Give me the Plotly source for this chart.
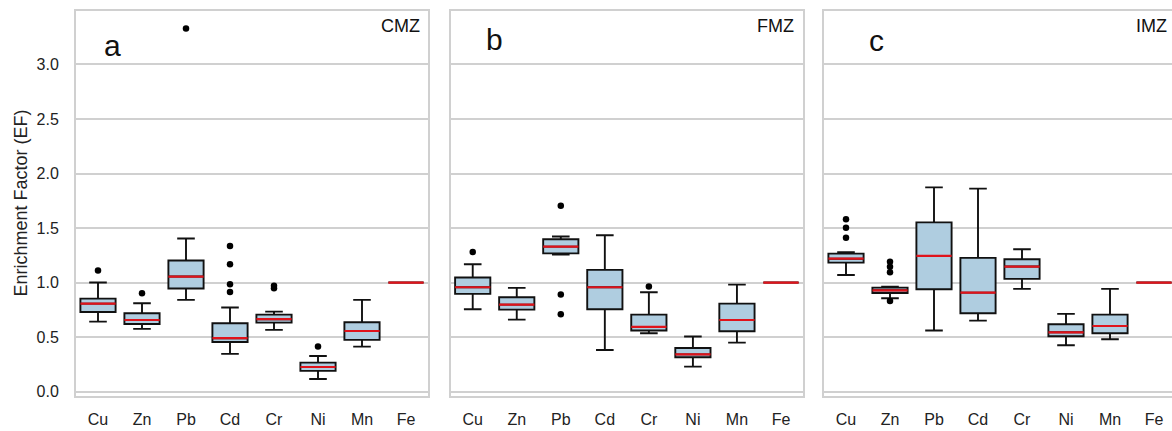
import plotly.graph_objects as go

categories = ["Cu", "Zn", "Pb", "Cd", "Cr", "Ni", "Mn", "Fe"]

# Panel a (CMZ)
a_lo = [0.642, 0.575, 0.841, 0.346, 0.566, 0.116, 0.413, 1.0]
a_q1 = [0.730, 0.620, 0.945, 0.455, 0.633, 0.190, 0.475, 1.0]
a_med = [0.807, 0.657, 1.055, 0.490, 0.664, 0.226, 0.556, 1.0]
a_q3 = [0.853, 0.719, 1.202, 0.627, 0.706, 0.266, 0.636, 1.0]
a_hi = [1.000, 0.810, 1.404, 0.771, 0.734, 0.327, 0.841, 1.0]
a_out_x = ["Cu", "Zn", "Pb", "Cd", "Cd", "Cd", "Cd", "Cr", "Cr", "Ni"]
a_out_y = [1.110, 0.902, 3.330, 1.336, 1.168, 0.985, 0.914, 0.972, 0.948, 0.413]

# Panel b (FMZ)
b_lo = [0.755, 0.660, 1.256, 0.382, 0.535, 0.229, 0.449, 1.0]
b_q1 = [0.896, 0.752, 1.268, 0.755, 0.560, 0.315, 0.553, 1.0]
b_med = [0.957, 0.798, 1.330, 0.957, 0.593, 0.342, 0.657, 1.0]
b_q3 = [1.046, 0.865, 1.397, 1.116, 0.706, 0.400, 0.807, 1.0]
b_hi = [1.168, 0.951, 1.422, 1.434, 0.911, 0.505, 0.981, 1.0]
b_out_x = ["Cu", "Pb", "Pb", "Pb", "Cr"]
b_out_y = [1.281, 1.705, 0.890, 0.709, 0.963]

# Panel c (IMZ)
c_lo = [1.070, 0.856, 0.560, 0.651, 0.942, 0.425, 0.480, 1.0]
c_q1 = [1.183, 0.904, 0.939, 0.719, 1.034, 0.508, 0.535, 1.0]
c_med = [1.219, 0.929, 1.244, 0.908, 1.147, 0.544, 0.602, 1.0]
c_q3 = [1.265, 0.954, 1.552, 1.226, 1.214, 0.618, 0.706, 1.0]
c_hi = [1.278, 0.963, 1.873, 1.861, 1.306, 0.713, 0.942, 1.0]
c_out_x = ["Cu", "Cu", "Cu", "Zn", "Zn", "Zn", "Zn"]
c_out_y = [1.580, 1.503, 1.412, 1.192, 1.146, 1.094, 0.831]

panel_letters = ["a", "b", "c"]
zone_names = ["CMZ", "FMZ", "IMZ"]
y_ticks = [0.0, 0.5, 1.0, 1.5, 2.0, 2.5, 3.0]

FILL = "#afcde0"
RED = "#e0131b"
GRID = "#d0d0d0"
FONT = "Liberation Sans, Arial, sans-serif"
TXT = "#222222"

W, H = 1172, 431
MT, MB = 11, 35

panels = [
    (a_lo, a_q1, a_med, a_q3, a_hi, a_out_x, a_out_y),
    (b_lo, b_q1, b_med, b_q3, b_hi, b_out_x, b_out_y),
    (c_lo, c_q1, c_med, c_q3, c_hi, c_out_x, c_out_y),
]

fig = go.Figure()
for i, (lo, q1, med, q3, hi, ox, oy) in enumerate(panels):
    xa = "x" if i == 0 else f"x{i+1}"
    ya = "y" if i == 0 else f"y{i+1}"
    fig.add_trace(go.Box(
        x=categories, q1=q1, median=med, q3=q3, lowerfence=lo, upperfence=hi,
        xaxis=xa, yaxis=ya, width=0.8, whiskerwidth=0.5,
        fillcolor=FILL, line=dict(color="#111111", width=1.9),
        boxpoints=False, showlegend=False, hoverinfo="skip"))
    fig.add_trace(go.Box(
        x=categories, q1=med, median=med, q3=med, lowerfence=med, upperfence=med,
        xaxis=xa, yaxis=ya, width=0.8, whiskerwidth=0,
        fillcolor="rgba(0,0,0,0)", line=dict(color=RED, width=2.2),
        boxpoints=False, showlegend=False, hoverinfo="skip"))
    fig.add_trace(go.Scatter(
        x=ox, y=oy, mode="markers", xaxis=xa, yaxis=ya,
        marker=dict(color="black", size=6.5), showlegend=False, hoverinfo="skip"))

domains = [[76 / W, 428 / W], [450.7 / W, 803 / W], [824 / W, 1.0]]
xranges = [[-0.5, 7.5], [-0.5, 7.5], [-0.5, -0.5 + (W - 824) / 44.0]]

layout = dict(
    width=W, height=H, margin=dict(l=0, r=0, t=MT, b=MB),
    paper_bgcolor="white", plot_bgcolor="white", boxmode="overlay",
    font=dict(family=FONT, color=TXT, size=16),
)
for i in range(3):
    sfx = "" if i == 0 else str(i + 1)
    layout["xaxis" + sfx] = dict(
        domain=domains[i], range=xranges[i], type="category",
        categoryorder="array", categoryarray=categories,
        showgrid=False, zeroline=False,
        showline=True, linecolor=GRID, linewidth=2, mirror=True,
        ticks="outside", ticklen=8, tickcolor="rgba(0,0,0,0)",
        tickfont=dict(size=16, family=FONT, color=TXT),
        anchor="y" + sfx, fixedrange=True,
    )
    layout["yaxis" + sfx] = dict(
        domain=[0, 1], range=[-0.04, 3.49],
        tickvals=y_ticks, ticktext=[f"{v:.1f}" for v in y_ticks],
        showticklabels=(i == 0),
        showgrid=True, gridcolor=GRID, gridwidth=1.6,
        zeroline=True, zerolinecolor=GRID, zerolinewidth=1.6,
        showline=True, linecolor=GRID, linewidth=2, mirror=(i < 2),
        ticks="outside", ticklen=12, tickcolor="rgba(0,0,0,0)",
        tickfont=dict(size=16, family=FONT, color=TXT),
        anchor="x" + sfx, fixedrange=True,
    )

def py(px):
    return (H - MB - px) / (H - MT - MB)

annotations = [
    dict(text="Enrichment Factor (EF)", x=20 / W, y=0.5, xref="paper", yref="paper",
         textangle=-90, showarrow=False, xanchor="center", yanchor="middle",
         font=dict(size=18, family=FONT, color=TXT)),
]
letter_pos = [(112, 45.5), (494, 39.5), (876, 40.5)]
zone_right = [422, 796, 1169]
for i in range(3):
    annotations.append(dict(
        text=panel_letters[i], x=letter_pos[i][0] / W, y=py(letter_pos[i][1]),
        xref="paper", yref="paper", showarrow=False, xanchor="center", yanchor="middle",
        font=dict(size=30, family=FONT, color="#111111")))
    annotations.append(dict(
        text=zone_names[i], x=zone_right[i] / W, y=py(26.5),
        xref="paper", yref="paper", showarrow=False, xanchor="right", yanchor="middle",
        font=dict(size=18, family=FONT, color="#111111")))
layout["annotations"] = annotations

fig.update_layout(**layout)
fig.write_html(
    "out.html",
    config={"displayModeBar": False},
    post_script="document.body.style.margin='0';document.body.style.padding='0';document.body.style.overflow='hidden';",
)
